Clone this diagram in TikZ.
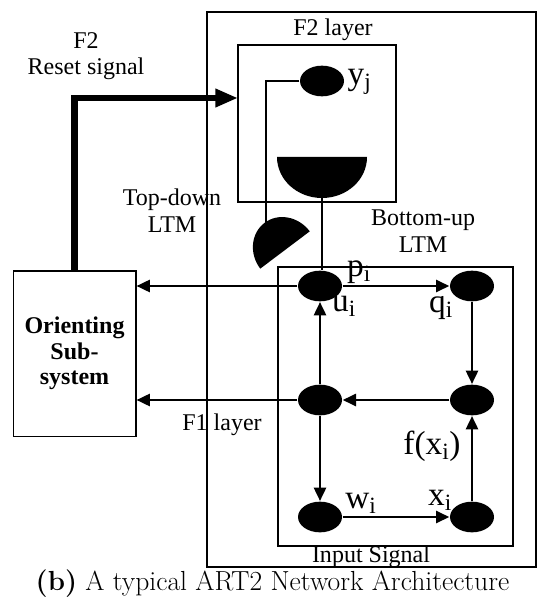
\documentclass[tikz,border=0pt]{standalone}
\usepackage{fontspec}
\newfontfamily\dfont{Liberation Serif}
\usetikzlibrary{shapes.geometric,arrows.meta}
\begin{document}
\begin{tikzpicture}[x=0.75pt,y=-0.75pt,font=\dfont\fontsize{18}{20}\selectfont,line width=1pt,
  dot/.style={ellipse,fill=black,minimum width=33pt,minimum height=23pt,inner sep=0pt},
  lbl/.style={font=\dfont\fontsize{25}{26}\selectfont,inner sep=0pt},
  flow/.style={line width=1.9pt,-{Triangle[length=10pt,width=9pt]}}]
  \useasboundingbox (0,0) rectangle (537,602);
  % frames
  \draw (207,12) rectangle (536,567);
  \draw (238,45) rectangle (396,202);
  \draw (278,267) rectangle (513,546);
  \node[draw,minimum width=92pt,minimum height=124pt,align=center,
    font=\dfont\bfseries\fontsize{18}{19}\selectfont] (orient) at (74.5,353.5) {Orienting\\Sub-\\system};
  % F2 layer
  \node[dot] (yj) at (322,81) {};
  \fill (277,157) arc[start angle=180,end angle=0,x radius=45,y radius=41] -- cycle;
  \fill[shift={(285,250)},rotate=37] (31,0) arc[start angle=0,end angle=-180,x radius=31,y radius=34] -- cycle;
  \coordinate (hdbot) at (322,198);
  \coordinate (tdtop) at (266,223);
  \coordinate (rin) at (238,98);
  % F1 layer
  \node[dot] (pi) at (320,286) {};
  \node[dot] (qi) at (472,286) {};
  \node[dot] (ui) at (320,400) {};
  \node[dot] (vi) at (472,400) {};
  \node[dot] (wi) at (320,517) {};
  \node[dot] (xi) at (472,517) {};
  \draw (yj.west) -| (tdtop);
  \draw (hdbot) -- (hdbot |- pi.north);
  \draw[flow] (pi) -- (qi);
  \draw[flow] (qi) -- (vi);
  \draw[flow] (vi) -- (ui);
  \draw[flow] (ui) -- (pi);
  \draw[flow] (ui) -- (wi);
  \draw[flow] (wi) -- (xi);
  \draw[flow] (xi) -- (vi);
  \draw[flow] (pi) -- (pi -| orient.east);
  \draw[flow] (ui) -- (ui -| orient.east);
  \draw[line width=5pt,-{Triangle[length=17pt,width=13pt]}] (orient.north) |- (rin);
  % labels
  \node[lbl,anchor=west] (yjl) at (347,82) {y\textsubscript{j}};
  \node[lbl] (pil) at (359,272) {p\textsubscript{i}};
  \node[lbl] (uil) at (344,306) {u\textsubscript{i}};
  \node[lbl] (qil) at (441,308) {q\textsubscript{i}};
  \node[lbl] (fxl) at (432,446) {f(x\textsubscript{i})};
  \node[lbl] (wil) at (361,503) {w\textsubscript{i}};
  \node[lbl] (xil) at (440,500) {x\textsubscript{i}};
  \node (f2l) at (333,30) {F2 layer};
  \node[align=center] (rsl) at (86,56) {F2\\Reset signal};
  \node[align=center] (tdl) at (172,211) {Top-down\\LTM};
  \node[align=center] (bul) at (423,231) {Bottom-up\\LTM};
  \node (f1l) at (222,425) {F1 layer};
  \node (isl) at (371,557) {Input Signal};
  \node[anchor=west,inner sep=0pt,font=\fontsize{20.7}{22}\selectfont] (cap) at (35,584)
    {\textbf{(b)} A typical ART2 Network Architecture};
\end{tikzpicture}
\end{document}
